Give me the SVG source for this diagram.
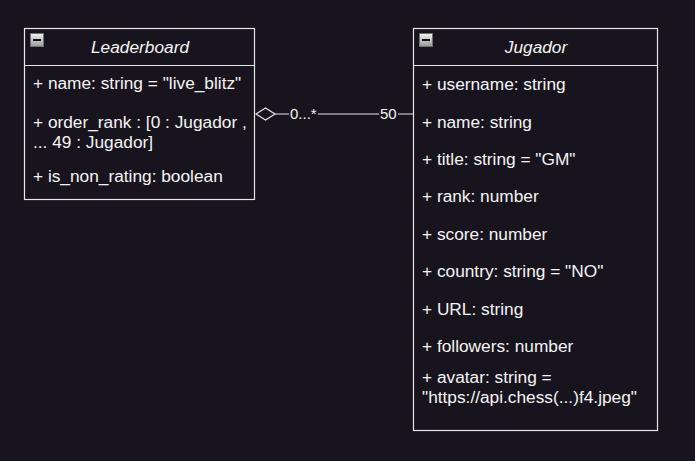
<svg xmlns="http://www.w3.org/2000/svg" width="695" height="461" viewBox="0 0 695 461">
  <defs>
    <linearGradient id="ig" x1="0" y1="0" x2="0" y2="1">
      <stop offset="0" stop-color="#f2f2f2"/>
      <stop offset="1" stop-color="#9a9a9a"/>
    </linearGradient>
    <style>
      .box { fill: #18141d; stroke: #e6e6e6; stroke-width: 1.2; }
      .sep { stroke: #e6e6e6; stroke-width: 1.2; }
      .t { font-family: "Liberation Sans", Arial, sans-serif; font-size: 17.3px; fill: #f4f4f4; }
      .title { font-style: italic; text-anchor: middle; }
      .lbl { font-family: "Liberation Sans", Arial, sans-serif; font-size: 15px; fill: #f4f4f4; }
      .icon { fill: url(#ig); stroke: #707070; stroke-width: 1; }
      .minus { stroke: #111; stroke-width: 2; }
      .edge { stroke: #e6e6e6; stroke-width: 1.2; fill: none; }
    </style>
  </defs>
  <rect x="0" y="0" width="695" height="461" fill="#18141d"/>

  <g id="connectors">
    <line class="edge" x1="275" y1="114" x2="413" y2="114"/>
    <polygon points="256,114 265.5,108 275,114 265.5,120" fill="#18141d" stroke="#e6e6e6" stroke-width="1.2"/>
    <rect x="289" y="105" width="29" height="18" fill="#18141d"/>
    <text class="lbl" x="290" y="119">0...*</text>
    <rect x="379" y="105" width="19" height="18" fill="#18141d"/>
    <text class="lbl" x="380" y="119">50</text>
  </g>

  <g id="leaderboard">
    <rect class="box" x="24.5" y="28.5" width="230" height="171"/>
    <line class="sep" x1="24.5" y1="65.5" x2="254.5" y2="65.5"/>
    <rect class="icon" x="30.5" y="33.5" width="13" height="13"/>
    <line class="minus" x1="33" y1="40" x2="41" y2="40"/>
    <text class="t title" x="140" y="53">Leaderboard</text>
    <text class="t" x="33" y="89">+ name: string = "live_blitz"</text>
    <text class="t" x="33" y="128">+ order_rank : [0 : Jugador ,</text>
    <text class="t" x="33" y="148">... 49 : Jugador]</text>
    <text class="t" x="33" y="182">+ is_non_rating: boolean</text>
  </g>

  <g id="jugador">
    <rect class="box" x="413.5" y="28.5" width="244" height="402"/>
    <line class="sep" x1="413.5" y1="65.5" x2="657.5" y2="65.5"/>
    <rect class="icon" x="419.5" y="33.5" width="13" height="13"/>
    <line class="minus" x1="422" y1="40" x2="430" y2="40"/>
    <text class="t title" x="536" y="53">Jugador</text>
    <text class="t" x="422" y="90">+ username: string</text>
    <text class="t" x="422" y="128">+ name: string</text>
    <text class="t" x="422" y="165">+ title: string = "GM"</text>
    <text class="t" x="422" y="202">+ rank: number</text>
    <text class="t" x="422" y="240">+ score: number</text>
    <text class="t" x="422" y="277">+ country: string = "NO"</text>
    <text class="t" x="422" y="315">+ URL: string</text>
    <text class="t" x="422" y="352">+ followers: number</text>
    <text class="t" x="422" y="383">+ avatar: string =</text>
    <text class="t" x="422" y="403">"https://api.chess(...)f4.jpeg"</text>
  </g>
</svg>
